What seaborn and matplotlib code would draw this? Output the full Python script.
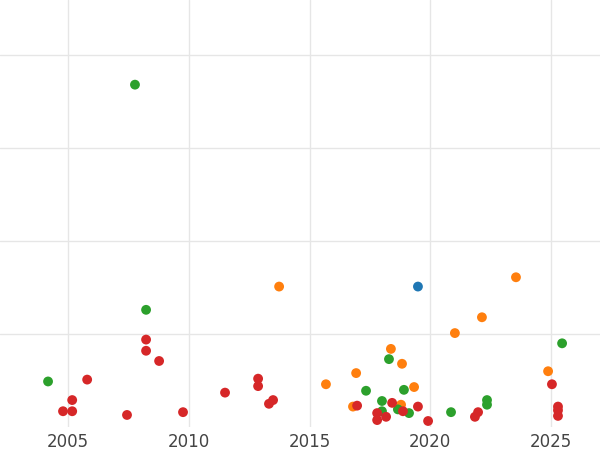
import matplotlib
matplotlib.use("Agg")
import matplotlib.pyplot as plt
import seaborn as sns
import pandas as pd

# Values
green_x = [2004.17, 2007.77, 2008.23, 2017.34, 2018.29, 2018.0, 2018.0, 2018.91, 2019.12,
           2020.86, 2022.35, 2022.35, 2025.46, 2018.66]
green_y = [4.9, 36.8, 12.6, 3.9, 7.3, 2.8, 1.7, 4.0, 1.5, 1.6, 2.9, 2.4, 9.0, 1.9]
orange_x = [2013.74, 2015.68, 2016.93, 2016.8, 2018.37, 2018.83, 2019.33, 2018.79,
            2021.02, 2022.14, 2023.55, 2024.88]
orange_y = [15.1, 4.6, 5.8, 2.2, 8.4, 6.8, 4.3, 2.4, 10.1, 11.8, 16.1, 6.0]
blue_x = [2019.49]
blue_y = [15.1]
red_x = [2004.79, 2005.17, 2005.17, 2005.79, 2007.44, 2008.23, 2008.23, 2008.77, 2009.76,
         2011.5, 2012.87, 2012.87, 2013.32, 2013.49, 2016.97, 2017.8, 2017.8, 2018.17,
         2018.42, 2018.87, 2019.49, 2019.91, 2021.85, 2021.98, 2025.04, 2025.29, 2025.29, 2025.29]
red_y = [1.7, 2.9, 1.7, 5.1, 1.3, 9.4, 8.2, 7.1, 1.6, 3.7, 5.2, 4.4, 2.5, 2.9, 2.3, 1.5,
         0.75, 1.1, 2.6, 1.7, 2.2, 0.65, 1.1, 1.6, 4.6, 2.2, 1.2, 1.8]

frames = []
for name, xs, ys in [("blue", blue_x, blue_y), ("orange", orange_x, orange_y),
                     ("green", green_x, green_y), ("red", red_x, red_y)]:
    frames.append(pd.DataFrame({"year": xs, "value": ys, "group": name}))
df = pd.concat(frames, ignore_index=True)

palette = {"blue": "#1f77b4", "orange": "#ff7f0e", "green": "#2ca02c", "red": "#d62728"}

sns.set_style("whitegrid")
fig = plt.figure(figsize=(6, 4.5), dpi=100)
ax = fig.add_axes([0, 0.051, 1, 0.949])
sns.scatterplot(data=df, x="year", y="value", hue="group", palette=palette,
                s=50, edgecolor="none", legend=False, ax=ax)

ax.set_xlim(2002.18, 2027.03)
ax.set_ylim(0, 45.9)
ax.set_xticks([2005, 2010, 2015, 2020, 2025])
ax.set_yticks([10, 20, 30, 40])
ax.set_yticklabels([])
ax.tick_params(axis="y", length=0)
ax.tick_params(axis="x", labelsize=12, labelcolor="#444444", length=0, pad=4)
ax.grid(color="#e6e6e6", linewidth=1)
ax.set_xlabel("")
ax.set_ylabel("")
for s in ax.spines.values():
    s.set_visible(False)

fig.savefig("out.png", dpi=100)
